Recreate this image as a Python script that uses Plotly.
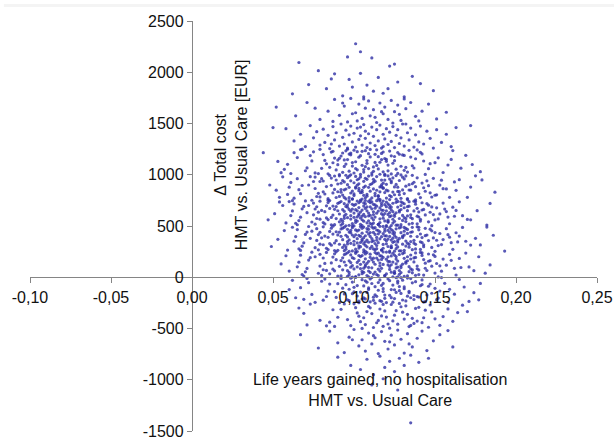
import plotly.graph_objects as go

# Probabilistic sensitivity analysis: (life years gained, delta total cost [EUR]), grouped by cost band
band_2000 = [(0.101,2278),(0.104,2200),(0.096,2150),(0.111,2140),(0.122,2060),(0.125,2080),(0.078,2015),(0.066,2095)]
band_1750 = [(0.136,1960),(0.149,1820),(0.062,1790),(0.088,1985),(0.097,1930),(0.108,1875),(0.115,1950),(0.083,1840),(0.127,1905),(0.093,1770),
             (0.118,1795),(0.104,1990),(0.072,1880),(0.131,1760),(0.099,1855),(0.112,1815),(0.141,1890),(0.086,1935),(0.121,1840),(0.106,1760)]
band_1500 = [(0.052,1660),(0.071,1705),(0.079,1540),(0.084,1620),(0.088,1735),(0.091,1580),(0.094,1670),(0.096,1515),(0.098,1745),(0.101,1605),
             (0.103,1690),(0.105,1550),(0.107,1650),(0.109,1720),(0.110,1575),(0.112,1635),(0.114,1510),(0.116,1700),(0.118,1595),(0.119,1660),
             (0.121,1540),(0.123,1725),(0.125,1615),(0.127,1680),(0.129,1530),(0.132,1645),(0.135,1705),(0.138,1570),(0.142,1620),(0.146,1690),
             (0.151,1545),(0.157,1610),(0.064,1575),(0.076,1650),(0.087,1520),(0.099,1595),(0.106,1740),(0.113,1560),(0.117,1615),(0.124,1505),
             (0.131,1740),(0.140,1525),(0.093,1700),(0.102,1525),(0.128,1590)]
band_1250 = [(0.050,1460),(0.058,1450),(0.063,1330),(0.067,1395),(0.070,1275),(0.073,1480),(0.075,1360),(0.077,1420),(0.079,1290),(0.081,1445),
             (0.082,1315),(0.084,1385),(0.085,1255),(0.087,1470),(0.088,1340),(0.089,1410),(0.091,1280),(0.092,1495),(0.093,1365),(0.094,1300),
             (0.095,1435),(0.096,1260),(0.097,1390),(0.098,1475),(0.099,1320),(0.100,1405),(0.101,1270),(0.102,1455),(0.103,1345),(0.104,1380),
             (0.105,1290),(0.106,1490),(0.107,1355),(0.107,1425),(0.108,1265),(0.109,1400),(0.110,1310),(0.111,1465),(0.112,1375),(0.113,1285),
             (0.114,1440),(0.115,1330),(0.116,1485),(0.117,1260),(0.118,1395),(0.119,1350),(0.120,1450),(0.121,1295),(0.122,1415),(0.123,1325),
             (0.124,1470),(0.125,1265),(0.126,1385),(0.127,1440),(0.128,1305),(0.129,1360),(0.130,1495),(0.131,1280),(0.133,1410),(0.134,1340),
             (0.135,1455),(0.137,1270),(0.138,1390),(0.140,1320),(0.141,1475),(0.143,1300),(0.145,1425),(0.147,1355),(0.149,1260),(0.151,1440),
             (0.154,1315),(0.157,1395),(0.160,1275),(0.163,1460),(0.172,1480),(0.068,1250),(0.086,1300),(0.104,1465),(0.118,1275),(0.132,1495)]
band_1000 = [(0.061,1012),(0.073,1187),(0.080,1063),(0.086,1221),(0.090,1098),(0.094,1145),(0.097,1035),(0.100,1240),(0.103,1171),(0.107,1079),
             (0.109,1206),(0.113,1120),(0.116,1005),(0.119,1158),(0.122,1231),(0.126,1054),(0.130,1193),(0.136,1088),(0.143,1134),(0.155,1022),
             (0.063,1215),(0.071,1067),(0.082,1140),(0.084,1009),(0.092,1183),(0.096,1249),(0.095,1104),(0.102,1048),(0.101,1127),(0.105,1229),
             (0.111,1016),(0.115,1176),(0.114,1091),(0.121,1038),(0.120,1151),(0.128,1200),(0.132,1071),(0.134,1238),(0.146,1059),(0.152,1165),
             (0.059,1102),(0.075,1224),(0.078,1011),(0.088,1163),(0.089,1047),(0.093,1212),(0.099,1085),(0.098,1194),(0.104,1003),(0.108,1139),
             (0.110,1247),(0.112,1076),(0.117,1208),(0.118,1029),(0.124,1112),(0.125,1178),(0.131,1043),(0.138,1156),(0.141,1219),(0.158,1095),
             (0.065,1168),(0.070,1039),(0.081,1197),(0.087,1117),(0.091,1002),(0.095,1233),(0.096,1148),(0.101,1061),(0.104,1186),(0.106,1026),
             (0.108,1111),(0.114,1243),(0.115,1057),(0.120,1131),(0.123,1008),(0.127,1217),(0.129,1083),(0.135,1172),(0.144,1003),(0.161,1236),
             (0.057,1053),(0.074,1135),(0.079,1248),(0.085,1072),(0.091,1160),(0.093,1024),(0.098,1211),(0.099,1119),(0.102,1225),(0.106,1051),
             (0.110,1174),(0.112,1033),(0.117,1148),(0.118,1222),(0.121,1094),(0.127,1013),(0.131,1189),(0.137,1066),(0.142,1203),(0.150,1118),
             (0.067,1246),(0.076,1018),(0.083,1107),(0.087,1229),(0.090,1143),(0.094,1081),(0.097,1202),(0.100,1017),(0.105,1092),(0.107,1235),
             (0.109,1060),(0.113,1199),(0.116,1122),(0.119,1004),(0.123,1185),(0.125,1137),(0.133,1026),(0.139,1242),(0.147,1108),(0.166,1064),
             (0.044,1215),(0.053,1130),(0.173,1100),(0.169,1190),(0.178,1030),(0.055,1020),(0.160,1150)]
band_750 = [(0.063,771),(0.075,934),(0.082,812),(0.088,988),(0.092,856),(0.096,903),(0.099,764),(0.102,951),(0.105,829),(0.109,877),
            (0.111,997),(0.115,790),(0.118,918),(0.121,843),(0.124,969),(0.128,806),(0.132,889),(0.138,755),(0.145,941),(0.157,862),
            (0.061,925),(0.077,788),(0.080,962),(0.090,834),(0.094,779),(0.095,995),(0.101,870),(0.104,753),(0.103,911),(0.107,966),
            (0.113,818),(0.117,884),(0.116,760),(0.123,938),(0.122,797),(0.130,976),(0.134,851),(0.136,912),(0.148,783),(0.154,947),
            (0.066,854),(0.073,981),(0.084,767),(0.086,897),(0.093,943),(0.098,822),(0.097,986),(0.100,797),(0.106,877),(0.110,756),
            (0.112,928),(0.114,849),(0.119,993),(0.120,772),(0.126,906),(0.127,837),(0.131,959),(0.140,814),(0.143,873),(0.162,930),
            (0.059,808),(0.076,866),(0.081,939),(0.089,778),(0.091,990),(0.095,861),(0.100,922),(0.103,845),(0.104,979),(0.108,791),
            (0.110,905),(0.116,833),(0.117,948),(0.122,758),(0.125,881),(0.129,998),(0.133,768),(0.137,927),(0.144,839),(0.151,804),
            (0.065,962),(0.074,751),(0.083,885),(0.087,823),(0.092,917),(0.097,776),(0.098,941),(0.103,867),(0.106,799),(0.108,955),
            (0.112,862),(0.114,982),(0.119,826),(0.120,907),(0.123,786),(0.128,944),(0.131,816),(0.139,970),(0.146,893),(0.159,780),
            (0.068,895),(0.078,819),(0.085,993),(0.088,857),(0.093,802),(0.094,930),(0.099,841),(0.101,984),(0.105,763),(0.107,890),
            (0.111,774),(0.113,937),(0.118,869),(0.121,990),(0.124,831),(0.126,762),(0.134,903),(0.135,850),(0.149,965),(0.163,848),
            (0.062,747),(0.072,900),(0.081,833),(0.089,949),(0.091,789),(0.096,971),(0.100,813),(0.102,898),(0.104,825),(0.109,987),
            (0.110,840),(0.115,765),(0.117,901),(0.122,958),(0.125,805),(0.127,879),(0.132,989),(0.141,777),(0.142,919),(0.155,864),
            (0.067,815),(0.076,977),(0.079,784),(0.090,910),(0.094,853),(0.095,764),(0.098,999),(0.101,880),(0.106,936),(0.108,808),
            (0.112,955),(0.116,881),(0.115,796),(0.120,850),(0.123,923),(0.129,770),(0.130,852),(0.136,994),(0.147,824),(0.153,899),
            (0.060,879),(0.079,934),(0.084,752),(0.086,968),(0.092,830),(0.097,877),(0.099,763),(0.103,961),(0.105,847),(0.107,775),
            (0.111,912),(0.113,795),(0.119,948),(0.118,871),(0.126,992),(0.128,836),(0.133,758),(0.138,884),(0.150,800),(0.165,952),
            (0.048,900),(0.054,780),(0.179,950),(0.187,830),(0.172,880),(0.170,780),(0.056,980),(0.175,990),(0.052,850)]
band_500 = [(0.065,512),(0.077,688),(0.084,563),(0.090,721),(0.094,598),(0.098,645),(0.101,535),(0.104,740),(0.107,671),(0.111,579),
            (0.113,706),(0.117,620),(0.120,505),(0.123,658),(0.126,731),(0.130,554),(0.134,693),(0.140,588),(0.147,634),(0.159,522),
            (0.063,715),(0.079,567),(0.082,640),(0.092,509),(0.096,683),(0.097,749),(0.103,604),(0.102,548),(0.109,627),(0.110,729),
            (0.115,516),(0.116,676),(0.122,591),(0.121,538),(0.128,651),(0.129,700),(0.136,571),(0.138,738),(0.150,559),(0.156,665),
            (0.061,602),(0.075,724),(0.086,511),(0.088,663),(0.093,547),(0.099,712),(0.100,585),(0.106,694),(0.105,503),(0.112,639),
            (0.114,747),(0.118,576),(0.119,708),(0.124,529),(0.125,612),(0.131,678),(0.132,543),(0.142,656),(0.145,719),(0.162,595),
            (0.068,668),(0.074,539),(0.083,697),(0.091,617),(0.095,502),(0.097,733),(0.102,648),(0.105,561),(0.108,686),(0.110,526),
            (0.112,611),(0.118,743),(0.121,557),(0.122,631),(0.127,508),(0.131,717),(0.135,583),(0.139,672),(0.148,503),(0.165,736),
            (0.066,553),(0.078,635),(0.085,748),(0.089,572),(0.093,660),(0.099,524),(0.101,711),(0.103,619),(0.106,725),(0.109,551),
            (0.113,674),(0.116,533),(0.120,648),(0.124,722),(0.125,594),(0.129,513),(0.133,689),(0.141,566),(0.146,703),(0.153,618),
            (0.070,745),(0.076,518),(0.087,607),(0.091,729),(0.094,643),(0.096,581),(0.100,702),(0.104,517),(0.107,592),(0.111,735),
            (0.112,560),(0.117,699),(0.119,622),(0.123,504),(0.127,685),(0.128,637),(0.136,526),(0.137,742),(0.144,608),(0.170,564),
            (0.062,647),(0.072,700),(0.081,533),(0.090,649),(0.092,739),(0.095,614),(0.101,557),(0.103,680),(0.105,596),(0.109,741),
            (0.111,668),(0.115,515),(0.118,653),(0.121,716),(0.124,566),(0.130,603),(0.134,737),(0.139,521),(0.151,677),(0.158,587),
            (0.067,586),(0.079,742),(0.083,579),(0.088,513),(0.095,691),(0.098,601),(0.102,744),(0.104,636),(0.108,531),(0.110,687),
            (0.114,625),(0.116,746),(0.121,541),(0.122,702),(0.126,629),(0.132,571),(0.133,650),(0.138,713),(0.149,611),(0.161,684),
            (0.064,527),(0.075,609),(0.085,671),(0.092,564),(0.094,718),(0.097,507),(0.100,626),(0.105,655),(0.106,547),(0.112,711),
            (0.113,587),(0.117,655),(0.120,734),(0.123,599),(0.125,546),(0.129,661),(0.135,610),(0.142,727),(0.146,541),(0.155,724),
            (0.069,691),(0.077,573),(0.084,729),(0.089,690),(0.093,524),(0.099,664),(0.102,589),(0.103,727),(0.108,648),(0.111,517),
            (0.114,693),(0.118,605),(0.119,550),(0.122,677),(0.127,740),(0.131,582),(0.134,519),(0.140,637),(0.143,662),(0.167,601),
            (0.060,738),(0.080,652),(0.086,584),(0.091,541),(0.096,707),(0.098,568),(0.101,659),(0.104,578),(0.107,718),(0.110,605),
            (0.115,646),(0.116,570),(0.120,689),(0.124,640),(0.126,508),(0.130,726),(0.133,598),(0.141,548),(0.148,686),(0.157,641),
            (0.071,630),(0.076,666),(0.082,520),(0.087,694),(0.094,575),(0.097,662),(0.100,501),(0.106,613),(0.107,749),(0.109,598),
            (0.112,529),(0.117,720),(0.121,613),(0.123,685),(0.128,573),(0.129,736),(0.137,647),(0.139,596),(0.152,569),(0.163,652),
            (0.051,620),(0.047,560),(0.056,700),(0.182,510),(0.176,650),(0.184,720),(0.172,560),(0.058,530),(0.054,735)]
band_250 = [(0.067,262),(0.079,438),(0.086,313),(0.092,471),(0.096,348),(0.100,395),(0.103,285),(0.106,490),(0.109,421),(0.113,329),
            (0.115,456),(0.119,370),(0.122,255),(0.125,408),(0.128,481),(0.132,304),(0.136,443),(0.142,338),(0.149,384),(0.161,272),
            (0.065,465),(0.081,317),(0.084,390),(0.094,259),(0.098,433),(0.099,499),(0.105,354),(0.104,298),(0.111,377),(0.112,479),
            (0.117,266),(0.118,426),(0.124,341),(0.123,288),(0.130,401),(0.131,450),(0.138,321),(0.140,488),(0.152,309),(0.158,415),
            (0.063,352),(0.077,474),(0.088,261),(0.090,413),(0.095,297),(0.101,462),(0.102,335),(0.108,444),(0.107,253),(0.114,389),
            (0.116,497),(0.120,326),(0.121,458),(0.126,279),(0.127,362),(0.133,428),(0.134,293),(0.144,406),(0.147,469),(0.164,345),
            (0.070,418),(0.076,289),(0.085,447),(0.093,367),(0.097,252),(0.099,483),(0.104,398),(0.107,311),(0.110,436),(0.112,276),
            (0.114,361),(0.120,493),(0.123,307),(0.124,381),(0.129,258),(0.133,467),(0.137,333),(0.141,422),(0.150,253),(0.167,486),
            (0.068,303),(0.080,385),(0.087,498),(0.091,322),(0.095,410),(0.101,274),(0.103,461),(0.105,369),(0.108,475),(0.111,301),
            (0.115,424),(0.118,283),(0.122,398),(0.126,472),(0.127,344),(0.131,263),(0.135,439),(0.143,316),(0.148,453),(0.155,368),
            (0.072,495),(0.078,268),(0.089,357),(0.093,479),(0.096,393),(0.098,331),(0.102,452),(0.106,267),(0.109,342),(0.113,485),
            (0.114,310),(0.119,449),(0.121,372),(0.125,254),(0.129,435),(0.130,387),(0.138,276),(0.139,492),(0.146,358),(0.172,314),
            (0.064,397),(0.074,450),(0.083,283),(0.092,399),(0.094,489),(0.097,364),(0.103,307),(0.105,430),(0.107,346),(0.111,491),
            (0.113,418),(0.117,265),(0.120,403),(0.123,466),(0.126,316),(0.132,353),(0.136,487),(0.141,271),(0.153,427),(0.160,337),
            (0.069,336),(0.081,492),(0.085,329),(0.090,263),(0.097,441),(0.100,351),(0.104,494),(0.106,386),(0.110,281),(0.112,437),
            (0.116,375),(0.118,496),(0.123,291),(0.124,452),(0.128,379),(0.134,321),(0.135,400),(0.140,463),(0.151,361),(0.163,434),
            (0.066,277),(0.077,359),(0.087,421),(0.094,314),(0.096,468),(0.099,257),(0.102,376),(0.107,405),(0.108,297),(0.114,461),
            (0.115,337),(0.119,405),(0.122,484),(0.125,349),(0.127,296),(0.131,411),(0.137,360),(0.144,477),(0.148,291),(0.157,474),
            (0.071,441),(0.079,323),(0.086,479),(0.091,440),(0.095,274),(0.101,414),(0.104,339),(0.105,477),(0.110,398),(0.113,267),
            (0.116,443),(0.120,355),(0.121,300),(0.124,427),(0.129,490),(0.133,332),(0.136,269),(0.142,387),(0.145,412),(0.169,351),
            (0.062,488),(0.082,402),(0.088,334),(0.093,291),(0.098,457),(0.100,318),(0.103,409),(0.106,328),(0.109,468),(0.112,355),
            (0.117,396),(0.118,320),(0.122,439),(0.126,390),(0.128,258),(0.132,476),(0.135,348),(0.143,298),(0.150,436),(0.159,391),
            (0.073,380),(0.078,416),(0.084,270),(0.089,444),(0.096,325),(0.099,412),(0.102,251),(0.108,363),(0.109,499),(0.111,348),
            (0.114,279),(0.119,470),(0.123,363),(0.125,435),(0.130,323),(0.131,486),(0.139,397),(0.141,346),(0.154,319),(0.165,402),
            (0.053,370),(0.049,300),(0.057,455),(0.193,255),(0.182,490),(0.178,315),(0.186,410),(0.175,380),(0.059,265)]
band_0 = [(0.069,12),(0.081,188),(0.088,63),(0.094,221),(0.098,98),(0.102,145),(0.105,35),(0.108,240),(0.111,171),(0.115,79),
          (0.117,206),(0.121,120),(0.124,5),(0.127,158),(0.130,231),(0.134,54),(0.138,193),(0.144,88),(0.151,134),(0.163,22),
          (0.067,215),(0.083,67),(0.086,140),(0.096,9),(0.100,183),(0.101,249),(0.107,104),(0.106,48),(0.113,127),(0.114,229),
          (0.119,16),(0.120,176),(0.126,91),(0.125,38),(0.132,151),(0.133,200),(0.140,71),(0.142,238),(0.154,59),(0.160,165),
          (0.065,102),(0.079,224),(0.090,11),(0.092,163),(0.097,47),(0.103,212),(0.104,85),(0.110,194),(0.109,3),(0.116,139),
          (0.118,247),(0.122,76),(0.123,208),(0.128,29),(0.129,112),(0.135,178),(0.136,43),(0.146,156),(0.149,219),(0.166,95),
          (0.072,168),(0.078,39),(0.087,197),(0.095,117),(0.099,2),(0.101,233),(0.106,148),(0.109,61),(0.112,186),(0.114,26),
          (0.116,111),(0.122,243),(0.125,57),(0.126,131),(0.131,8),(0.135,217),(0.139,83),(0.143,172),(0.152,3),(0.169,236),
          (0.070,53),(0.082,135),(0.089,248),(0.093,72),(0.097,160),(0.103,24),(0.105,211),(0.107,119),(0.110,225),(0.113,51),
          (0.117,174),(0.120,33),(0.124,148),(0.128,222),(0.129,94),(0.133,13),(0.137,189),(0.145,66),(0.150,203),(0.157,118),
          (0.074,245),(0.080,18),(0.091,107),(0.095,229),(0.098,143),(0.100,81),(0.104,202),(0.108,17),(0.111,92),(0.115,235),
          (0.116,60),(0.121,199),(0.123,122),(0.127,4),(0.131,185),(0.132,137),(0.140,26),(0.141,242),(0.148,108),(0.174,64),
          (0.066,147),(0.076,200),(0.085,33),(0.094,149),(0.096,239),(0.099,114),(0.105,57),(0.107,180),(0.109,96),(0.113,241),
          (0.115,168),(0.119,15),(0.122,153),(0.125,216),(0.128,66),(0.134,103),(0.138,237),(0.143,21),(0.155,177),(0.162,87),
          (0.071,86),(0.083,242),(0.087,79),(0.092,13),(0.099,191),(0.102,101),(0.106,244),(0.108,136),(0.112,31),(0.114,187),
          (0.118,125),(0.120,246),(0.125,41),(0.126,202),(0.130,129),(0.136,71),(0.137,150),(0.142,213),(0.153,111),(0.165,184),
          (0.068,27),(0.079,109),(0.089,171),(0.096,64),(0.098,218),(0.101,7),(0.104,126),(0.109,155),(0.110,47),(0.116,211),
          (0.117,87),(0.121,155),(0.124,234),(0.127,99),(0.129,46),(0.133,161),(0.139,110),(0.146,227),(0.150,41),(0.159,224),
          (0.073,191),(0.081,73),(0.088,229),(0.093,190),(0.097,24),(0.103,164),(0.106,89),(0.107,227),(0.112,148),(0.115,17),
          (0.118,193),(0.122,105),(0.123,50),(0.126,177),(0.131,240),(0.135,82),(0.138,19),(0.144,137),(0.147,162),(0.171,101),
          (0.055,130),(0.060,60),(0.177,200),(0.181,40),(0.058,210),(0.184,120)]
band_m250 = [(0.071,-12),(0.083,-188),(0.090,-63),(0.096,-221),(0.100,-98),(0.104,-145),(0.107,-35),(0.110,-240),(0.113,-171),(0.117,-79),
             (0.119,-206),(0.123,-120),(0.126,-5),(0.129,-158),(0.132,-231),(0.136,-54),(0.140,-193),(0.146,-88),(0.153,-134),(0.165,-22),
             (0.069,-215),(0.085,-67),(0.088,-140),(0.098,-9),(0.102,-183),(0.103,-249),(0.109,-104),(0.108,-48),(0.115,-127),(0.116,-229),
             (0.121,-16),(0.122,-176),(0.128,-91),(0.127,-38),(0.134,-151),(0.135,-200),(0.142,-71),(0.144,-238),(0.156,-59),(0.162,-165),
             (0.067,-102),(0.081,-224),(0.092,-11),(0.094,-163),(0.099,-47),(0.105,-212),(0.106,-85),(0.112,-194),(0.111,-3),(0.118,-139),
             (0.120,-247),(0.124,-76),(0.125,-208),(0.130,-29),(0.131,-112),(0.137,-178),(0.138,-43),(0.148,-156),(0.151,-219),(0.168,-95),
             (0.074,-168),(0.080,-39),(0.089,-197),(0.097,-117),(0.101,-2),(0.103,-233),(0.108,-148),(0.111,-61),(0.114,-186),(0.116,-26),
             (0.118,-111),(0.124,-243),(0.127,-57),(0.128,-131),(0.133,-8),(0.137,-217),(0.141,-83),(0.145,-172),(0.154,-3),(0.171,-236),
             (0.072,-53),(0.084,-135),(0.091,-248),(0.095,-72),(0.099,-160),(0.105,-24),(0.107,-211),(0.109,-119),(0.112,-225),(0.115,-51),
             (0.119,-174),(0.122,-33),(0.126,-148),(0.130,-222),(0.131,-94),(0.135,-13),(0.139,-189),(0.147,-66),(0.152,-203),(0.159,-118),
             (0.076,-245),(0.082,-18),(0.093,-107),(0.097,-229),(0.100,-143),(0.102,-81),(0.106,-202),(0.110,-17),(0.113,-92),(0.117,-235),
             (0.118,-60),(0.123,-199),(0.125,-122),(0.129,-4),(0.133,-185),(0.134,-137),(0.142,-26),(0.143,-242),(0.150,-108),(0.177,-220),
             (0.060,-120),(0.064,-200),(0.174,-150),(0.178,-60),(0.062,-30),(0.158,-245)]
band_m500 = [(0.073,-262),(0.085,-438),(0.092,-313),(0.098,-471),(0.102,-348),(0.106,-395),(0.109,-285),(0.112,-490),(0.115,-421),(0.119,-329),
             (0.121,-456),(0.125,-370),(0.128,-255),(0.131,-408),(0.134,-481),(0.138,-304),(0.142,-443),(0.148,-338),(0.155,-384),(0.167,-272),
             (0.071,-465),(0.087,-317),(0.090,-390),(0.100,-259),(0.104,-433),(0.105,-499),(0.111,-354),(0.110,-298),(0.117,-377),(0.118,-479),
             (0.123,-266),(0.124,-426),(0.130,-341),(0.129,-288),(0.136,-401),(0.137,-450),(0.144,-321),(0.146,-488),(0.158,-309),(0.170,-335),
             (0.069,-352),(0.083,-474),(0.094,-261),(0.096,-413),(0.101,-297),(0.107,-462),(0.108,-335),(0.114,-444),(0.113,-253),(0.120,-389),
             (0.122,-497),(0.126,-326),(0.127,-458),(0.132,-279),(0.133,-362),(0.139,-428),(0.140,-293),(0.150,-406),(0.153,-469),(0.164,-345),
             (0.066,-300),(0.079,-420),(0.116,-310),(0.135,-470),(0.147,-270),(0.161,-430),(0.088,-480),(0.103,-380),(0.118,-265),(0.143,-395)]
band_m750 = [(0.067,-560),(0.078,-690),(0.085,-525),(0.090,-640),(0.094,-735),(0.097,-585),(0.100,-510),(0.103,-670),(0.105,-610),(0.107,-720),
             (0.109,-545),(0.111,-650),(0.113,-590),(0.115,-745),(0.117,-530),(0.119,-625),(0.121,-700),(0.123,-565),(0.125,-660),(0.127,-515),
             (0.129,-605),(0.131,-740),(0.133,-550),(0.136,-680),(0.139,-595),(0.142,-525),(0.145,-715),(0.149,-620),(0.153,-560),(0.161,-680),
             (0.158,-520),(0.112,-570),(0.122,-630),(0.099,-610),(0.134,-650)]
band_m1000 = [(0.104,-900),(0.090,-780),(0.098,-860),(0.108,-800),(0.112,-950),(0.116,-770),(0.119,-880),(0.122,-820),(0.125,-920),(0.128,-790),
              (0.131,-860),(0.135,-760),(0.140,-830),(0.146,-790),(0.118,-990),(0.135,-1420),(0.111,-1050),(0.127,-1100)]

x_ticks = [-0.10, -0.05, 0.00, 0.05, 0.10, 0.15, 0.20, 0.25]
x_tick_labels = ["-0,10", "-0,05", "0,00", "0,05", "0,10", "0,15", "0,20", "0,25"]
y_ticks = [-1500, -1000, -500, 0, 500, 1000, 1500, 2000, 2500]
y_tick_labels = ["-1500", "-1000", "-500", "0", "500", "1000", "1500", "2000", "2500"]
x_title = "Life years gained, no hospitalisation<br>HMT vs. Usual Care"
y_title = "Δ Total cost<br>HMT vs. Usual Care [EUR]"

bands = [band_2000, band_1750, band_1500, band_1250, band_1000, band_750, band_500,
         band_250, band_0, band_m250, band_m500, band_m750, band_m1000]
lyg = [p[0] for b in bands for p in b]
cost = [p[1] for b in bands for p in b]

x_range = [-0.10, 0.25]
y_range = [-1500, 2500]

fig = go.Figure()
fig.add_trace(go.Scatter(
    x=lyg, y=cost, mode="markers",
    marker=dict(size=3.2, color="rgba(48,48,165,0.8)", line=dict(width=0)),
    hoverinfo="skip", showlegend=False,
))

axis_color = "#858585"
font_family = "Liberation Sans, Arial, sans-serif"
txt_color = "#111111"

fig.update_layout(
    width=614, height=440,
    margin=dict(l=30, r=17, t=21, b=9, autoexpand=False),
    paper_bgcolor="white", plot_bgcolor="white",
    font=dict(family=font_family, size=16, color=txt_color),
    xaxis=dict(
        range=x_range, tickvals=x_ticks, ticktext=x_tick_labels,
        anchor="free", position=(0 - y_range[0]) / (y_range[1] - y_range[0]),
        automargin=False,
        showline=True, linecolor=axis_color, linewidth=1.4,
        ticks="outside", ticklen=5, tickwidth=1.4, tickcolor=axis_color,
        showgrid=False, zeroline=False,
        tickfont=dict(size=16, family=font_family, color=txt_color),
    ),
    yaxis=dict(
        range=y_range, tickvals=y_ticks, ticktext=y_tick_labels,
        anchor="free", position=(0 - x_range[0]) / (x_range[1] - x_range[0]),
        automargin=False,
        showline=True, linecolor=axis_color, linewidth=1.4,
        ticks="outside", ticklen=5, tickwidth=1.4, tickcolor=axis_color,
        showgrid=False, zeroline=False,
        tickfont=dict(size=16, family=font_family, color=txt_color),
    ),
    annotations=[
        dict(text=y_title, xref="paper", yref="paper", x=0.355, y=0.673,
             textangle=-90, showarrow=False, xanchor="center", yanchor="middle",
             font=dict(size=16, family=font_family, color=txt_color)),
        dict(text=x_title, xref="paper", yref="paper", x=0.617, y=0.10,
             showarrow=False, xanchor="center", yanchor="middle",
             font=dict(size=16, family=font_family, color=txt_color)),
    ],
    shapes=[
        dict(type="rect", xref="paper", yref="paper", x0=-0.046, x1=1.03,
             y0=(410 + 21 - 7) / 410, y1=(410 + 21 - 4) / 410,
             fillcolor="#f4f4f4", line=dict(width=0), layer="below"),
    ],
)

fig.write_html("out.html")
